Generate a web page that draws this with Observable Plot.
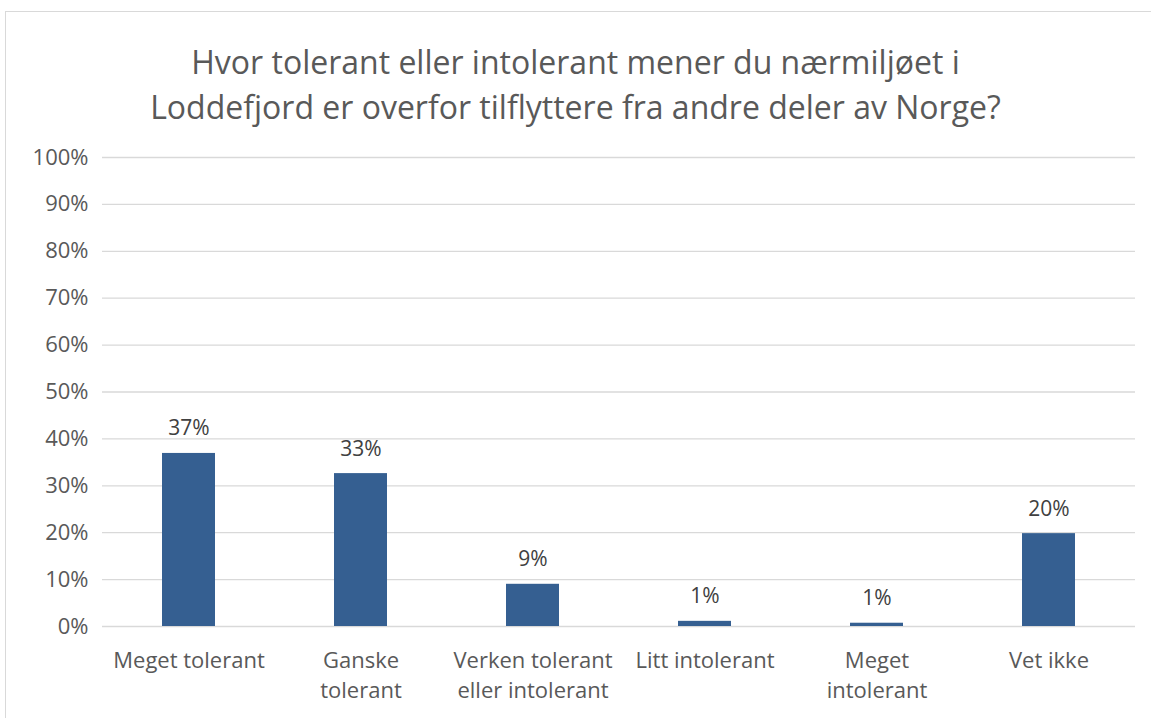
<!DOCTYPE html>
<html>
<head>
<meta charset="utf-8">
<script src="https://cdn.jsdelivr.net/npm/d3@7"></script>
<script src="https://cdn.jsdelivr.net/npm/@observablehq/plot@0.6"></script>
<style>
  html, body { margin: 0; padding: 0; background: #fff; }
  #wrap { position: relative; width: 1151px; height: 718px; overflow: hidden; font-family: "Open Sans", Lato, sans-serif; }
  #frame { position: absolute; left: 5px; top: 11px; width: 1160px; height: 720px; border-left: 1.5px solid #d9d9d9; border-top: 1.5px solid #d9d9d9; box-sizing: border-box; }
  #title { position: absolute; left: 0; top: 39px; width: 1151px; text-align: center; font-size: 32px; line-height: 45px; color: #595959; }
  #chart { position: absolute; left: 0; top: 140px; }
</style>
</head>
<body>
<div id="wrap">
  <div id="frame"></div>
  <div id="title">Hvor tolerant eller intolerant mener du nærmiljøet i<br>Loddefjord er overfor tilflyttere fra andre deler av Norge?</div>
  <div id="chart"></div>
</div>
<script>
const categories = ["Meget tolerant", "Ganske tolerant", "Verken tolerant eller intolerant", "Litt intolerant", "Meget intolerant", "Vet ikke"];
const categoryLabels = ["Meget tolerant", "Ganske\ntolerant", "Verken tolerant\neller intolerant", "Litt intolerant", "Meget\nintolerant", "Vet ikke"];
const values = [36.9, 32.6, 9.0, 1.1, 0.7, 19.8];
const valueLabels = ["37%", "33%", "9%", "1%", "1%", "20%"];
const yTicks = [0, 10, 20, 30, 40, 50, 60, 70, 80, 90, 100];

const data = categories.map((c, i) => ({cat: c, value: values[i], label: valueLabels[i]}));
const labelOf = new Map(categories.map((c, i) => [c, categoryLabels[i]]));

const chart = Plot.plot({
  width: 1151,
  height: 578,
  marginTop: 17,
  marginBottom: 92,
  marginLeft: 102,
  marginRight: 16,
  style: {fontFamily: "'Open Sans', Lato, sans-serif", color: "#595959", background: "transparent"},
  x: {domain: categories, paddingInner: 0.69, paddingOuter: 0.345},
  y: {domain: [0, 100]},
  marks: [
    Plot.gridY(yTicks, {stroke: "#d9d9d9", strokeOpacity: 1, strokeWidth: 1.3}),
    Plot.axisY(yTicks, {tickSize: 0, tickPadding: 14, tickFormat: d => d + "%", fontSize: 22, fill: "#595959", label: null}),
    Plot.axisX({tickSize: 0, tickPadding: 20, tickFormat: d => labelOf.get(d), fontSize: 22, fill: "#595959", lineHeight: 1.36, label: null}),
    Plot.barY(data, {x: "cat", y: "value", fill: "#355f91"}),
    Plot.text(data, {x: "cat", y: "value", text: "label", dy: -18, lineAnchor: "bottom", fontSize: 21, fill: "#404040"})
  ]
});
document.getElementById("chart").appendChild(chart);
</script>
</body>
</html>
